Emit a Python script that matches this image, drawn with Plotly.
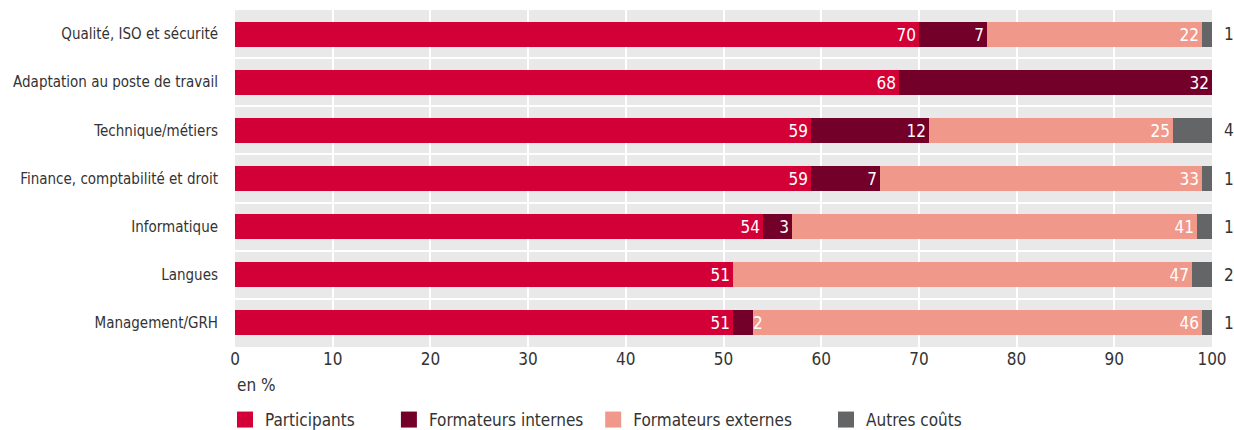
import plotly.graph_objects as go

categories = [
    "Qualité, ISO et sécurité",
    "Adaptation au poste de travail",
    "Technique/métiers",
    "Finance, comptabilité et droit",
    "Informatique",
    "Langues",
    "Management/GRH",
]
participants = [70, 68, 59, 59, 54, 51, 51]
formateurs_internes = [7, 32, 12, 7, 3, 0, 2]
formateurs_externes = [22, 0, 25, 33, 41.5, 47, 46]
autres_couts = [1, 0, 4, 1, 1.5, 2, 1]

lab_participants = ["70", "68", "59", "59", "54", "51", "51"]
lab_internes = ["7", "32", "12", "7", "3", "", ""]
lab_externes = ["22", "", "25", "33", "41", "47", "46"]
lab_autres = ["1", "", "4", "1", "1", "2", "1"]

series_names = ["Participants", "Formateurs internes", "Formateurs externes", "Autres coûts"]
colors = ["#d20036", "#720029", "#f0998a", "#646567"]

FONT = "DejaVu Sans Condensed, Liberation Sans Narrow, Roboto, sans-serif"
ypos = list(range(len(categories)))

fig = go.Figure()
series = [participants, formateurs_internes, formateurs_externes]
labels = [lab_participants, lab_internes, lab_externes]
for i, (vals, labs) in enumerate(zip(series, labels)):
    fig.add_trace(go.Bar(
        x=vals, y=ypos, orientation="h",
        marker=dict(color=colors[i], line=dict(width=0)),
        text=labs, textposition="inside", insidetextanchor="end",
        textangle=0, constraintext="none",
        insidetextfont=dict(family=FONT, size=17, color="white"),
        width=0.52, showlegend=False, hoverinfo="skip",
    ))
fig.add_trace(go.Bar(
    x=autres_couts, y=ypos, orientation="h",
    marker=dict(color=colors[3], line=dict(width=0)),
    width=0.52, showlegend=False, hoverinfo="skip",
))

# labels of "Autres coûts" placed to the right of the stacked bar
totals = [a + b + c + d for a, b, c, d in zip(participants, formateurs_internes,
                                              formateurs_externes, autres_couts)]
for y, tot, lab in zip(ypos, totals, lab_autres):
    if lab:
        fig.add_annotation(
            x=tot, y=y, xref="x", yref="y", text=lab, showarrow=False,
            xanchor="left", xshift=10,
            font=dict(family=FONT, size=17, color="#333333"),
        )

# small label placed just right of the tiny "internes" segment in the last row
idx = 6
fig.add_annotation(
    x=participants[idx] + formateurs_internes[idx], y=ypos[idx], xref="x", yref="y",
    text=str(formateurs_internes[idx]), showarrow=False, xanchor="left", xshift=-2,
    font=dict(family=FONT, size=17, color="white"),
)

# legend entries
pads = [6, 1, 6, 0]
for name, c, p in zip(series_names, colors, pads):
    fig.add_trace(go.Scatter(
        x=[None], y=[None], mode="markers", name=name + "\u00a0" * p,
        marker=dict(symbol="square", size=20, color=c),
    ))

fig.update_layout(
    width=1234, height=430,
    barmode="stack",
    bargap=0,
    margin=dict(l=235, r=22, t=10, b=83, autoexpand=False),
    paper_bgcolor="white",
    plot_bgcolor="#e8e9e8",
    font=dict(family=FONT, size=17, color="#333333"),
    showlegend=True,
    legend=dict(
        orientation="h", x=-10 / 977, xanchor="left", y=-73 / 337, yanchor="middle",
        font=dict(family=FONT, size=17, color="#333333"),
        traceorder="normal",
    ),
)
fig.update_xaxes(
    range=[0, 100], tickvals=list(range(0, 101, 10)),
    showgrid=True, gridcolor="white", gridwidth=2,
    zeroline=False, showline=False, ticks="", automargin=False,
    tickfont=dict(family=FONT, size=17, color="#333333"),
)
fig.update_yaxes(
    range=[len(categories) - 0.5, -0.5],
    tickmode="array", tickvals=ypos, ticktext=categories,
    showgrid=False, zeroline=False, showline=False, ticks="", automargin=False,
    ticklabelstandoff=16,
    tickfont=dict(family=FONT, size=15, color="#333333"),
    minor=dict(tickmode="linear", tick0=0.5, dtick=1, showgrid=True,
               gridcolor="white", gridwidth=1.5, ticks=""),
)
fig.add_annotation(
    text="en %", x=0, xref="x", xanchor="left", y=-26 / 337, yref="paper", yanchor="top",
    showarrow=False, font=dict(family=FONT, size=17, color="#333333"),
)
fig.write_html(
    "out.html",
    config={"displayModeBar": False},
    post_script="document.body.style.margin='0';document.body.style.overflow='hidden';",
)
